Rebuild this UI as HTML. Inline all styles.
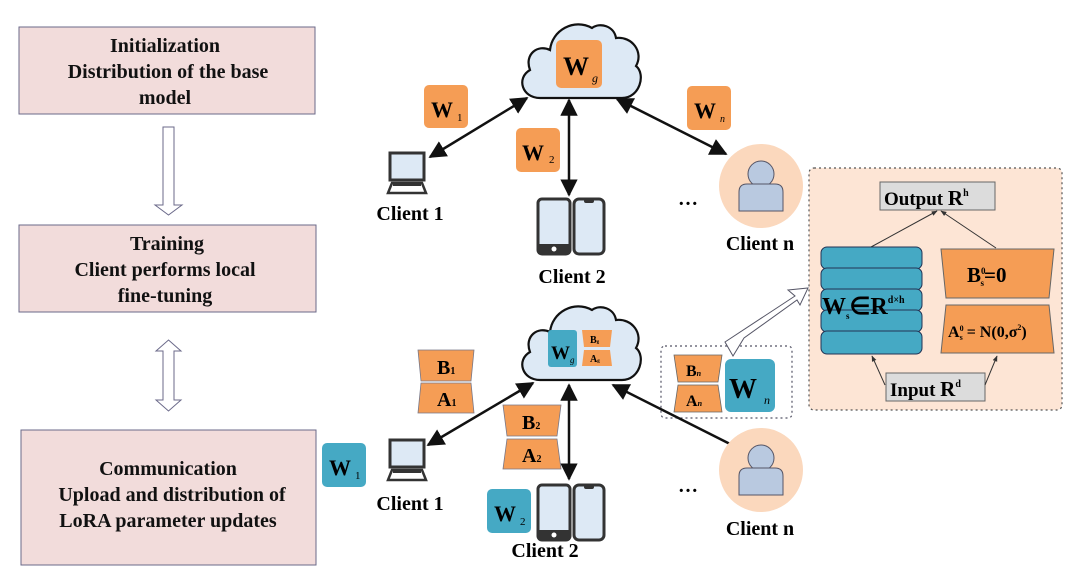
<!DOCTYPE html>
<html><head><meta charset="utf-8"><style>
html,body{margin:0;padding:0;background:#fff;}
svg{display:block;font-family:"Liberation Serif",serif;}
</style></head><body>
<svg width="1080" height="586" viewBox="0 0 1080 586" xmlns="http://www.w3.org/2000/svg">
<defs>
<marker id="ah" viewBox="0 0 10 10" refX="9" refY="5" markerWidth="7" markerHeight="7" orient="auto-start-reverse"><path d="M0,0 L10,5 L0,10 Z" fill="#111"/></marker>
<marker id="sa" viewBox="0 0 10 10" refX="9" refY="5" markerWidth="6" markerHeight="6" orient="auto"><path d="M0,1 L10,5 L0,9 Z" fill="#333"/></marker>
<g id="cloud"><path d="M22,80 C4,80 -2,60 12,52 C6,36 20,26 32,32 C34,12 56,0 74,10 C82,4 96,8 98,20 C114,18 126,34 118,48 C128,56 122,80 104,80 Z" fill="#dde9f5" stroke="#111" stroke-width="2.2"/></g>
<g id="comp"><rect x="2" y="0" width="34" height="27" fill="#dde9f5" stroke="#333" stroke-width="3"/><path d="M4,30 L34,30 L38,40 L0,40 Z" fill="#fff" stroke="#333" stroke-width="2.5"/><rect x="5" y="30" width="28" height="3" fill="#333"/></g>
<g id="phones"><rect x="0" y="0" width="32" height="55" rx="4" fill="#dde9f5" stroke="#333" stroke-width="3"/><rect x="0" y="45" width="32" height="10" fill="#333"/><circle cx="16" cy="50" r="2.5" fill="#fff"/><rect x="36" y="0" width="30" height="55" rx="5" fill="#dde9f5" stroke="#333" stroke-width="3"/><rect x="46" y="0" width="10" height="4" rx="2" fill="#333"/></g>
<g id="user"><circle cx="0" cy="0" r="42" fill="#fbd8bd"/><circle cx="0" cy="-12" r="13" fill="#b9c9e0" stroke="#556" stroke-width="1"/><path d="M-22,25 L-22,6 Q-22,-2 -14,-2 L14,-2 Q22,-2 22,6 L22,25 Z" fill="#b9c9e0" stroke="#556" stroke-width="1"/></g>
</defs>

<g fill="#f2dcdb" stroke="#6b6a8a" stroke-width="1">
<rect x="19" y="27" width="296" height="87"/>
<rect x="19" y="225" width="297" height="87"/>
<rect x="21" y="430" width="295" height="135"/>
</g>
<g font-weight="bold" font-size="20" text-anchor="middle" fill="#111">
<text x="165" y="52">Initialization</text>
<text x="168" y="78">Distribution of the base</text>
<text x="165" y="104">model</text>
<text x="167" y="250">Training</text>
<text x="165" y="276">Client performs local</text>
<text x="165" y="302">fine-tuning</text>
<text x="168" y="475">Communication</text>
<text x="172" y="501">Upload and distribution of</text>
<text x="168" y="527">LoRA parameter updates</text>
</g>
<path d="M163,127 L174,127 L174,205 L182,205 L168.5,215 L155,205 L163,205 Z" fill="#fff" stroke="#6b6a8a" stroke-width="1"/>
<path d="M168.5,340 L181,351 L174,351 L174,400 L181,400 L168.5,411 L156,400 L163,400 L163,351 L156,351 Z" fill="#fff" stroke="#6b6a8a" stroke-width="1"/>

<use href="#cloud" x="518" y="18"/>
<rect x="556" y="40" width="46" height="48" rx="5" fill="#f59d55"/>
<text x="563" y="75" font-size="26" font-weight="bold">W</text><text x="592" y="82" font-size="12" font-style="italic">g</text>
<line x1="430" y1="157" x2="527" y2="98" stroke="#111" stroke-width="2.5" marker-start="url(#ah)" marker-end="url(#ah)"/>
<line x1="569" y1="100" x2="569" y2="195" stroke="#111" stroke-width="2.5" marker-start="url(#ah)" marker-end="url(#ah)"/>
<line x1="617" y1="99" x2="726" y2="154" stroke="#111" stroke-width="2.5" marker-start="url(#ah)" marker-end="url(#ah)"/>
<rect x="424" y="85" width="44" height="43" rx="5" fill="#f59d55"/><text x="431" y="117" font-size="22" font-weight="bold">W</text><text x="457" y="121" font-size="11">1</text>
<rect x="516" y="128" width="44" height="44" rx="5" fill="#f59d55"/><text x="522" y="160" font-size="22" font-weight="bold">W</text><text x="549" y="163" font-size="11">2</text>
<rect x="687" y="86" width="44" height="44" rx="5" fill="#f59d55"/><text x="694" y="118" font-size="22" font-weight="bold">W</text><text x="720" y="122" font-size="10" font-style="italic">n</text>
<use href="#comp" x="388" y="153"/>
<text x="410" y="220" font-size="20" font-weight="bold" text-anchor="middle">Client 1</text>
<use href="#phones" x="538" y="199"/>
<text x="572" y="283" font-size="20" font-weight="bold" text-anchor="middle">Client 2</text>
<text x="688" y="205" font-size="20" font-weight="bold" text-anchor="middle">…</text>
<use href="#user" x="761" y="186"/>
<text x="760" y="250" font-size="20" font-weight="bold" text-anchor="middle">Client n</text>

<rect x="809" y="168" width="253" height="242" rx="5" fill="#fde5d5" stroke="#555" stroke-width="1.2" stroke-dasharray="2,3"/>
<rect x="880" y="182" width="115" height="28" fill="#dcdcdc" stroke="#666"/>
<text x="884" y="205" font-size="19" font-weight="bold">Output <tspan font-size="21">R</tspan><tspan font-size="10" dy="-9">h</tspan></text>
<g fill="#45a9c4" stroke="#235" stroke-width="1">
<rect x="821" y="247" width="101" height="22" rx="6"/><rect x="821" y="268" width="101" height="22" rx="6"/><rect x="821" y="289" width="101" height="22" rx="6"/><rect x="821" y="310" width="101" height="22" rx="6"/><rect x="821" y="331" width="101" height="23" rx="6"/>
</g>
<text x="822" y="314" font-size="24" font-weight="bold">W<tspan font-size="9" dy="5">s</tspan><tspan dy="-5">∈R</tspan><tspan font-size="10" dy="-11">d×h</tspan></text>
<path d="M941,249 L1054,249 L1049,298 L946,298 Z" fill="#f59d55" stroke="#666"/>
<path d="M946,305 L1049,305 L1054,353 L941,353 Z" fill="#f59d55" stroke="#666"/>
<text x="967" y="282" font-size="21" font-weight="bold">B<tspan font-size="9" dy="-8">0</tspan><tspan font-size="9" dx="-5" dy="12">s</tspan><tspan dy="-4">=0</tspan></text>
<text x="948" y="337" font-size="16" font-weight="bold">A<tspan font-size="8" dy="-6">0</tspan><tspan font-size="8" dx="-4" dy="9">s</tspan><tspan dy="-3"> = N(0,σ</tspan><tspan font-size="8" dy="-7">2</tspan><tspan dy="7">)</tspan></text>
<rect x="886" y="373" width="99" height="28" fill="#dcdcdc" stroke="#666"/>
<text x="890" y="396" font-size="19" font-weight="bold">Input <tspan font-size="21">R</tspan><tspan font-size="10" dy="-9">d</tspan></text>
<g stroke="#333" stroke-width="1" fill="none">
<line x1="871" y1="247" x2="937" y2="211" marker-end="url(#sa)"/>
<line x1="996" y1="248" x2="941" y2="211" marker-end="url(#sa)"/>
<line x1="885" y1="385" x2="872" y2="356" marker-end="url(#sa)"/>
<line x1="985" y1="385" x2="997" y2="356" marker-end="url(#sa)"/>
</g>

<rect x="661" y="346" width="131" height="72" rx="4" fill="#fff" stroke="#556" stroke-width="1.2" stroke-dasharray="2,3"/>
<path d="M674,355 L722,355 L718,382 L678,382 Z" fill="#f59d55" stroke="#666" stroke-width="0.8"/>
<path d="M678,385 L718,385 L722,412 L674,412 Z" fill="#f59d55" stroke="#666" stroke-width="0.8"/>
<text x="686" y="376" font-size="16" font-weight="bold">B<tspan font-size="8" font-style="italic">n</tspan></text>
<text x="686" y="406" font-size="16" font-weight="bold">A<tspan font-size="8" font-style="italic">n</tspan></text>
<rect x="725" y="359" width="50" height="53" rx="6" fill="#45a9c4"/>
<text x="729" y="398" font-size="28" font-weight="bold">W</text><text x="764" y="404" font-size="12" font-style="italic">n</text>
<path d="M733,356 L725,342 L795,296 L788,290 L808,288 L800,305 L797,300 L744,338 Z" fill="#fff" stroke="#556" stroke-width="1"/>

<use href="#cloud" x="518" y="300"/>
<rect x="548" y="330" width="29" height="37" rx="3" fill="#45a9c4"/>
<text x="551" y="359" font-size="19" font-weight="bold">W</text><text x="570" y="363" font-size="9" font-style="italic">g</text>
<path d="M582,330 L612,330 L610,347 L584,347 Z" fill="#f59d55"/><path d="M584,350 L610,350 L612,366 L582,366 Z" fill="#f59d55"/>
<text x="590" y="343" font-size="10" font-weight="bold">B<tspan font-size="5">g</tspan></text><text x="590" y="362" font-size="10" font-weight="bold">A<tspan font-size="5">g</tspan></text>
<line x1="428" y1="445" x2="533" y2="383" stroke="#111" stroke-width="2.5" marker-start="url(#ah)" marker-end="url(#ah)"/>
<line x1="569" y1="385" x2="569" y2="479" stroke="#111" stroke-width="2.5" marker-start="url(#ah)" marker-end="url(#ah)"/>
<line x1="613" y1="385" x2="736" y2="447" stroke="#111" stroke-width="2.5" marker-start="url(#ah)"/>
<path d="M418,350 L474,350 L471,381 L421,381 Z" fill="#f59d55" stroke="#778" stroke-width="0.8"/>
<path d="M421,383 L471,383 L474,413 L418,413 Z" fill="#f59d55" stroke="#778" stroke-width="0.8"/>
<text x="437" y="374" font-size="20" font-weight="bold">B<tspan font-size="10">1</tspan></text>
<text x="437" y="406" font-size="20" font-weight="bold">A<tspan font-size="10">1</tspan></text>
<path d="M503,405 L561,405 L557,436 L507,436 Z" fill="#f59d55" stroke="#778" stroke-width="0.8"/>
<path d="M507,439 L557,439 L561,469 L503,469 Z" fill="#f59d55" stroke="#778" stroke-width="0.8"/>
<text x="522" y="429" font-size="20" font-weight="bold">B<tspan font-size="10">2</tspan></text>
<text x="522" y="462" font-size="20" font-weight="bold">A<tspan font-size="10">2</tspan></text>
<rect x="322" y="443" width="44" height="44" rx="5" fill="#45a9c4"/><text x="329" y="475" font-size="22" font-weight="bold">W</text><text x="355" y="479" font-size="11">1</text>
<rect x="487" y="489" width="44" height="44" rx="5" fill="#45a9c4"/><text x="494" y="521" font-size="22" font-weight="bold">W</text><text x="520" y="525" font-size="11">2</text>
<use href="#comp" x="388" y="440"/>
<text x="410" y="510" font-size="20" font-weight="bold" text-anchor="middle">Client 1</text>
<use href="#phones" x="538" y="485"/>
<text x="545" y="557" font-size="20" font-weight="bold" text-anchor="middle">Client 2</text>
<text x="688" y="492" font-size="20" font-weight="bold" text-anchor="middle">…</text>
<use href="#user" x="761" y="470"/>
<text x="760" y="535" font-size="20" font-weight="bold" text-anchor="middle">Client n</text>
</svg>
</body></html>
